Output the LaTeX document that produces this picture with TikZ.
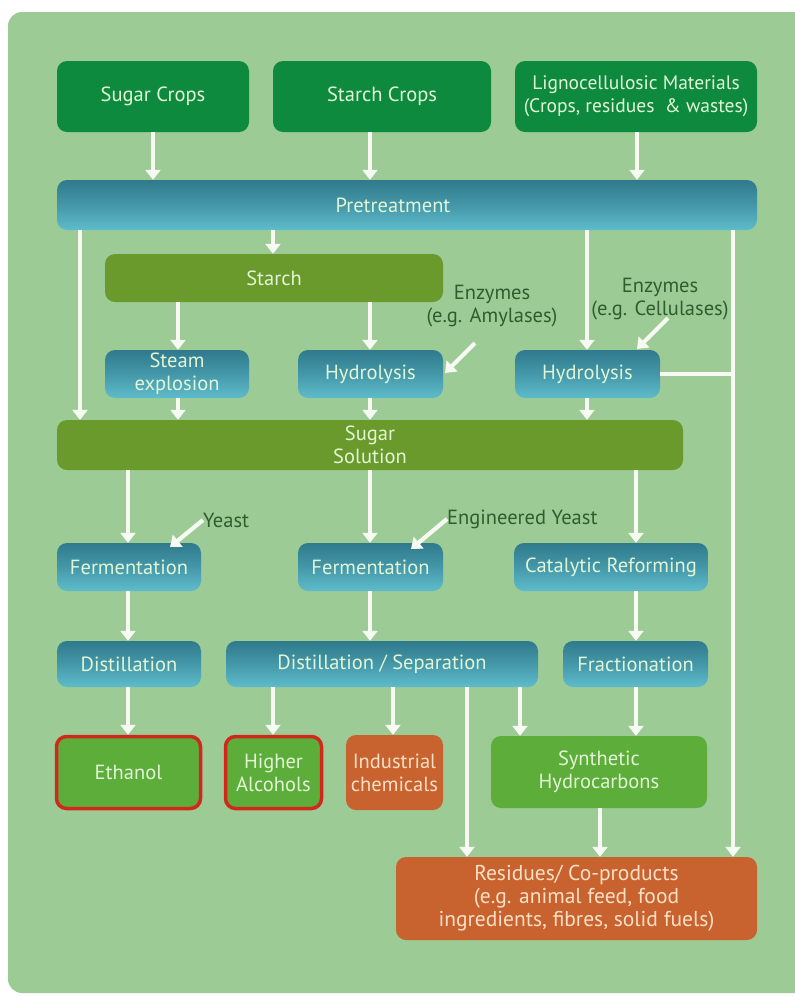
\documentclass[tikz,border=0pt]{standalone}
\usepackage{fontspec}
\setmainfont{PT Sans}
\usetikzlibrary{arrows.meta}
\definecolor{bgp}{HTML}{9CCB96}
\definecolor{dkg}{HTML}{0E8A3F}
\definecolor{olv}{HTML}{6A9A2C}
\definecolor{tealt}{HTML}{2F7A8C}
\definecolor{tealb}{HTML}{5EBCCB}
\definecolor{lgr}{HTML}{5DAD3B}
\definecolor{org}{HTML}{C8632F}
\definecolor{redb}{HTML}{D2281C}
\definecolor{txl}{HTML}{E2F5D6}
\definecolor{txo}{HTML}{FBE0C6}
\definecolor{lab}{HTML}{2E5E2E}
\definecolor{arw}{HTML}{F7FAF2}
\tikzset{
  box/.style={rounded corners=10pt, inner sep=0pt, align=center, text=txl,
    font=\fontsize{20.5}{23}\selectfont},
  crop/.style={box, fill=dkg},
  olive/.style={box, fill=olv},
  proc/.style={box, top color=tealt, bottom color=tealb, middle color=tealt!55!tealb},
  prod/.style={box, fill=lgr},
  redprod/.style={box, fill=lgr, draw=redb, line width=3.5pt},
  orgbox/.style={box, fill=org, text=txo},
  arr/.style={draw=arw, line width=4.2pt, -{Triangle[width=15pt,length=10pt]}},
  ln/.style={draw=arw, line width=4.2pt},
  lbl/.style={align=center, text=lab, inner sep=0pt, font=\fontsize{20.5}{23}\selectfont},
}
\begin{document}
\begin{tikzpicture}[x=1pt,y=-1pt]
\useasboundingbox (0,0) rectangle (795,997);
\fill[white] (0,0) rectangle (795,997);
\fill[bgp, rounded corners=14pt] (8,12) rectangle (812,993);

% top row
\node[crop, minimum width=192pt, minimum height=71pt] (sugar) at (153,96.5) {Sugar Crops};
\node[crop, minimum width=218pt, minimum height=71pt] (starchc) at (382,96.5) {Starch Crops};
\node[crop, minimum width=242pt, minimum height=71pt, font=\fontsize{19.5}{23}\selectfont] (ligno) at (636,96.5) {Lignocellulosic Materials\\(Crops, residues \ \& wastes)};

\node[proc, minimum width=700pt, minimum height=50pt] (pre) at (407,205) {};
\node[box, inner sep=0pt] (pretext) at (393,205) {Pretreatment};

\node[olive, minimum width=338pt, minimum height=48pt] (starch) at (274,278) {Starch};

\node[proc, minimum width=144pt, minimum height=48pt] (steam) at (177,374) {Steam\\explosion};
\node[proc, minimum width=145pt, minimum height=48pt] (hyd1) at (370.5,374) {Hydrolysis};
\node[proc, minimum width=145pt, minimum height=48pt] (hyd2) at (587.5,374) {Hydrolysis};

\node[lbl] (amy) at (492,306) {Enzymes\\(e.g. Amylases)};
\node[lbl] (cel) at (660,299) {Enzymes\\(e.g. Cellulases)};

\node[olive, minimum width=626pt, minimum height=50pt] (sugsol) at (370,445) {Sugar\\Solution};

\node[proc, minimum width=144pt, minimum height=48pt] (ferm1) at (129,567) {Fermentation};
\node[proc, minimum width=145pt, minimum height=48pt] (ferm2) at (370.5,567) {Fermentation};
\node[proc, minimum width=194pt, minimum height=48pt] (cat) at (611,567) {Catalytic Reforming};

\node[lbl, anchor=west] (yeast) at (203,520) {Yeast};
\node[lbl, anchor=west] (eyeast) at (447,519) {Engineered Yeast};

\node[proc, minimum width=144pt, minimum height=46pt] (dist) at (129,664) {Distillation};
\node[proc, minimum width=312pt, minimum height=46pt] (distsep) at (382,664) {Distillation / Separation};
\node[proc, minimum width=145pt, minimum height=46pt] (frac) at (635.5,664) {Fractionation};

\node[redprod, minimum width=144pt, minimum height=72pt] (eth) at (128.5,772.5) {Ethanol};
\node[redprod, minimum width=96pt, minimum height=72pt] (higher) at (273.5,772.5) {Higher\\Alcohols};
\node[orgbox, minimum width=97pt, minimum height=75pt] (indus) at (394.5,772.5) {Industrial\\chemicals};
\node[prod, minimum width=216pt, minimum height=72pt] (synth) at (599,772) {Synthetic\\Hydrocarbons};

\node[orgbox, minimum width=361pt, minimum height=83pt, font=\fontsize{21.5}{23}\selectfont] (resid) at (576.5,898.5) {Residues/ Co-products\\(e.g. animal feed, food\\ingredients, fibres, solid fuels)};

% arrows top
\draw[arr] (sugar.south) -- (sugar.south |- pre.north);
\draw[arr] (starchc.south -| 370,0) -- (pre.north -| 370,0);
\draw[arr] (ligno.south -| 637,0) -- (pre.north -| 637,0);

\draw[arr] (pre.south -| 80,0) -- (sugsol.north -| 80,0);
\draw[arr] (pre.south -| 273,0) -- (starch.north -| 273,0);
\draw[arr] (pre.south -| 587,0) -- (hyd2.north -| 587,0);
\draw[arr] (pre.south -| 733,0) -- (resid.north -| 733,0);

\draw[arr] (starch.south -| 178,0) -- (steam.north -| 178,0);
\draw[arr] (starch.south -| 370,0) -- (hyd1.north -| 370,0);

\coordinate (amyS) at (475,343);
\coordinate (celS) at (668,318);
\draw[arr] (amyS) -- (445,373);
\draw[arr] (celS) -- (637,349);

\draw[ln] (hyd2.east) -- (hyd2.east -| 735,0);

\draw[arr] (steam.south -| 178,0) -- (sugsol.north -| 178,0);
\draw[arr] (hyd1.south -| 370,0) -- (sugsol.north -| 370,0);
\draw[arr] (hyd2.south -| 587,0) -- (sugsol.north -| 587,0);

\draw[arr] (sugsol.south -| 128,0) -- (ferm1.north -| 128,0);
\draw[arr] (sugsol.south -| 370,0) -- (ferm2.north -| 370,0);
\draw[arr] (sugsol.south -| 636,0) -- (cat.north -| 636,0);

\draw[arr] (yeast.west) -- (170,547);
\draw[arr] (eyeast.west) -- (411,549);

\draw[arr] (ferm1.south -| 128,0) -- (dist.north -| 128,0);
\draw[arr] (ferm2.south -| 370,0) -- (distsep.north -| 370,0);
\draw[arr] (cat.south -| 636,0) -- (frac.north -| 636,0);

\draw[arr] (dist.south -| 128,0) -- (eth.north -| 128,0);
\draw[arr] (distsep.south -| 273,0) -- (higher.north -| 273,0);
\draw[arr] (distsep.south -| 393,0) -- (indus.north -| 393,0);
\draw[arr] (distsep.south -| 467,0) -- (resid.north -| 467,0);
\draw[arr] (distsep.south -| 520,0) -- (synth.north -| 520,0);
\draw[arr] (frac.south -| 636,0) -- (synth.north -| 636,0);
\draw[arr] (synth.south -| 600,0) -- (resid.north -| 600,0);
\end{tikzpicture}
\end{document}
